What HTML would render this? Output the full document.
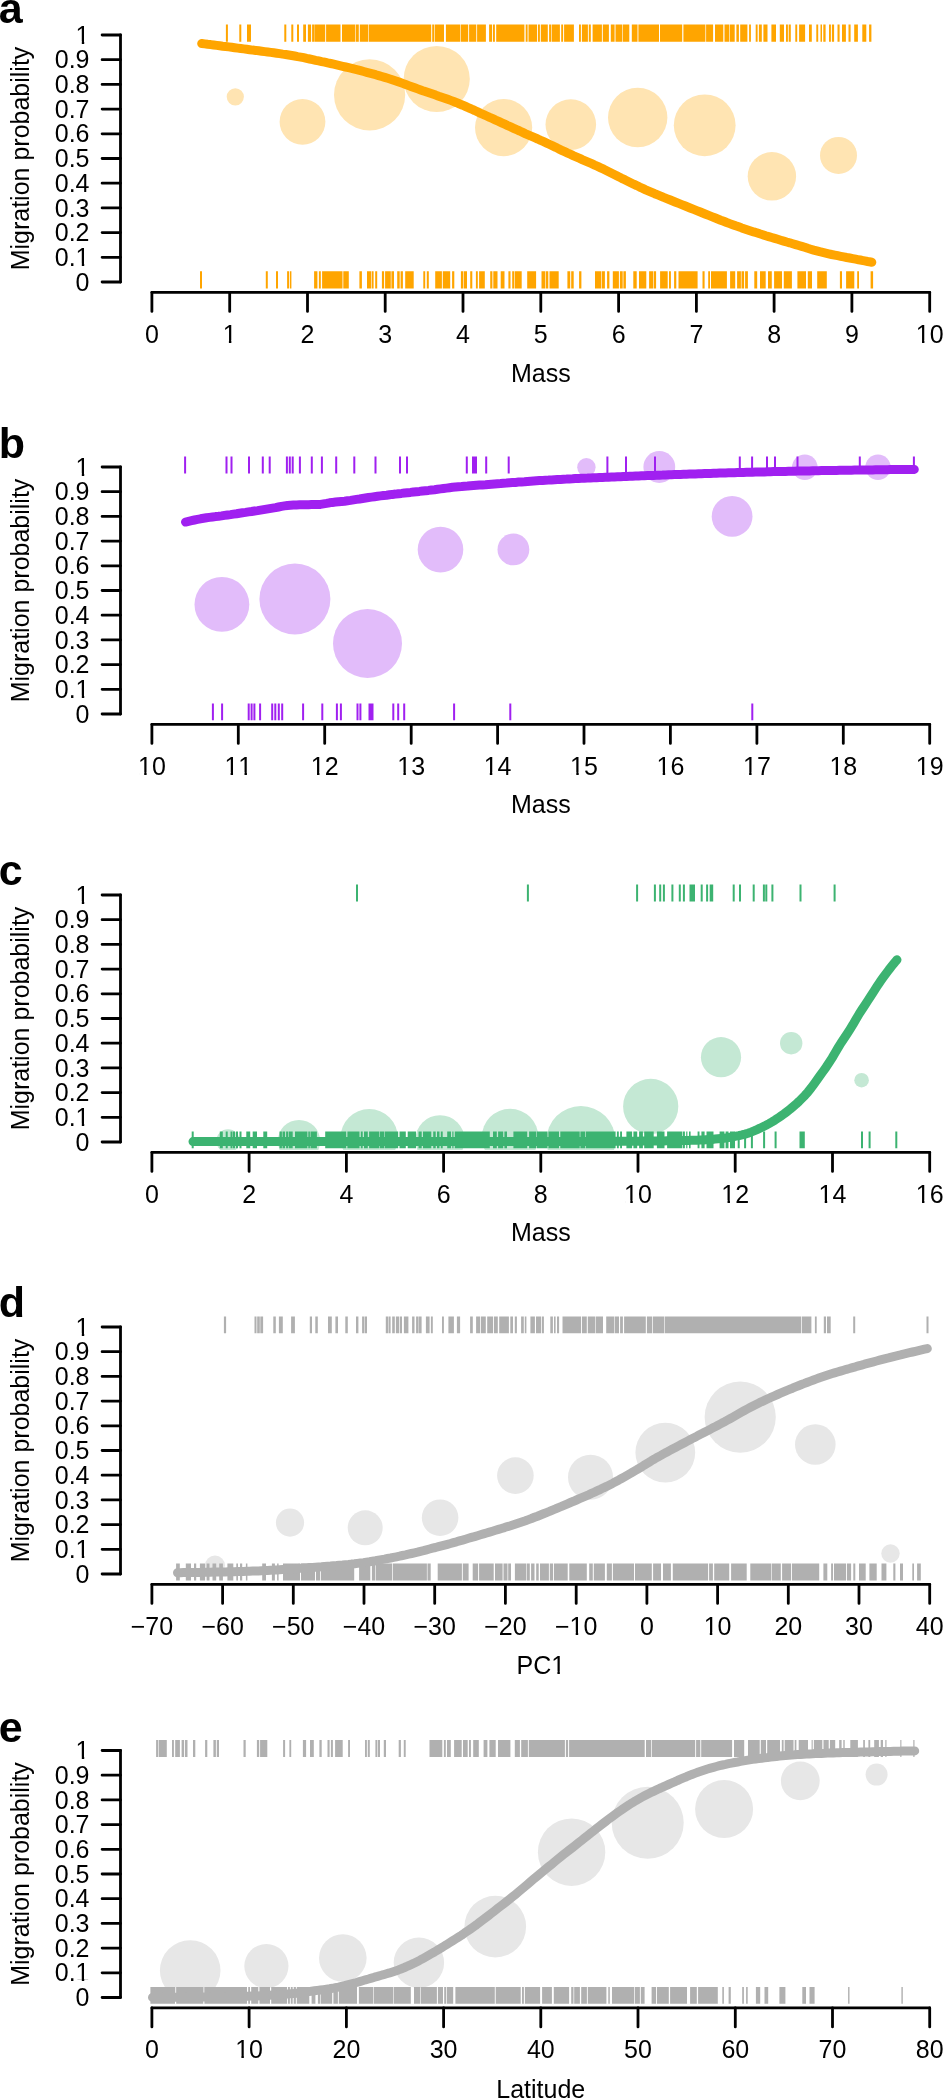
<!DOCTYPE html><html><head><meta charset="utf-8"><style>
html,body{margin:0;padding:0;background:#fff;width:943px;height:2099px;overflow:hidden}
svg{display:block;font-family:"Liberation Sans", sans-serif;-webkit-font-smoothing:antialiased;will-change:transform;font-kerning:none;font-feature-settings:"kern" 0}
</style></head><body>
<svg width="943" height="2099" viewBox="0 0 943 2099">
<g transform="translate(0,0)">
<text x="-1.3" y="22.7" font-weight="bold" font-size="43">a</text>
<text transform="translate(28.6,158.5) rotate(-90)" text-anchor="middle" font-size="25">Migration probability</text>
<path d="M120.5,35 V282" stroke="#000" stroke-width="2.8" fill="none" stroke-linecap="round"/>
<text x="89.5" y="290.6" text-anchor="end" font-size="25">0</text>

<text x="89.5" y="265.9" text-anchor="end" font-size="25">0.1</text>
<rect x="76.8" y="263.68" width="5.01" height="3.07" fill="#fff"/><rect x="84.21" y="263.68" width="5.05" height="3.07" fill="#fff"/>
<text x="89.5" y="241.2" text-anchor="end" font-size="25">0.2</text>

<text x="89.5" y="216.5" text-anchor="end" font-size="25">0.3</text>

<text x="89.5" y="191.8" text-anchor="end" font-size="25">0.4</text>

<text x="89.5" y="167.1" text-anchor="end" font-size="25">0.5</text>

<text x="89.5" y="142.4" text-anchor="end" font-size="25">0.6</text>

<text x="89.5" y="117.7" text-anchor="end" font-size="25">0.7</text>

<text x="89.5" y="93" text-anchor="end" font-size="25">0.8</text>

<text x="89.5" y="68.3" text-anchor="end" font-size="25">0.9</text>

<text x="89.5" y="43.6" text-anchor="end" font-size="25">1</text>
<rect x="76.8" y="41.38" width="5.01" height="3.07" fill="#fff"/><rect x="84.21" y="41.38" width="5.05" height="3.07" fill="#fff"/>
<path d="M102.1,282 H120.5 M102.1,257.3 H120.5 M102.1,232.6 H120.5 M102.1,207.9 H120.5 M102.1,183.2 H120.5 M102.1,158.5 H120.5 M102.1,133.8 H120.5 M102.1,109.1 H120.5 M102.1,84.4 H120.5 M102.1,59.7 H120.5 M102.1,35 H120.5" stroke="#000" stroke-width="2.8" fill="none" stroke-linecap="round"/>
<path d="M151.9,292.4 H929.7" stroke="#000" stroke-width="2.8" fill="none" stroke-linecap="round"/>
<text x="151.9" y="342.6" text-anchor="middle" font-size="25">0</text>

<text x="229.7" y="342.6" text-anchor="middle" font-size="25">1</text>
<rect x="223.9" y="340.38" width="5.01" height="3.07" fill="#fff"/><rect x="231.34" y="340.38" width="5.05" height="3.07" fill="#fff"/>
<text x="307.5" y="342.6" text-anchor="middle" font-size="25">2</text>

<text x="385.2" y="342.6" text-anchor="middle" font-size="25">3</text>

<text x="463" y="342.6" text-anchor="middle" font-size="25">4</text>

<text x="540.8" y="342.6" text-anchor="middle" font-size="25">5</text>

<text x="618.6" y="342.6" text-anchor="middle" font-size="25">6</text>

<text x="696.4" y="342.6" text-anchor="middle" font-size="25">7</text>

<text x="774.1" y="342.6" text-anchor="middle" font-size="25">8</text>

<text x="851.9" y="342.6" text-anchor="middle" font-size="25">9</text>

<text x="929.7" y="342.6" text-anchor="middle" font-size="25">10</text>
<rect x="917" y="340.38" width="5.01" height="3.07" fill="#fff"/><rect x="924.41" y="340.38" width="5.05" height="3.07" fill="#fff"/>
<path d="M151.9,292.4 V311.4 M229.7,292.4 V311.4 M307.5,292.4 V311.4 M385.2,292.4 V311.4 M463,292.4 V311.4 M540.8,292.4 V311.4 M618.6,292.4 V311.4 M696.4,292.4 V311.4 M774.1,292.4 V311.4 M851.9,292.4 V311.4 M929.7,292.4 V311.4" stroke="#000" stroke-width="2.8" fill="none" stroke-linecap="round"/>
<text x="540.8" y="382.4" text-anchor="middle" font-size="25">Mass</text>
<clipPath id="clipa"><rect x="0" y="0" width="943" height="290.1"/></clipPath>
<g clip-path="url(#clipa)" fill="#FFE4B2">
<circle cx="235.3" cy="96.8" r="8.6"/>
<circle cx="302.5" cy="121.8" r="22.9"/>
<circle cx="369.6" cy="94.8" r="35.6"/>
<circle cx="436.7" cy="79" r="33.1"/>
<circle cx="503.6" cy="127.6" r="28.6"/>
<circle cx="570.8" cy="124.6" r="25.3"/>
<circle cx="637.7" cy="117.5" r="29.7"/>
<circle cx="704.7" cy="125.3" r="30.9"/>
<circle cx="771.9" cy="176.3" r="24.2"/>
<circle cx="838.5" cy="155.4" r="18.5"/>
</g>
<path d="M225.9,24.5h2v17.2h-2zM239.3,24.5h2v17.2h-2zM247,24.5h4v17.2h-4zM284.3,24.5h2v17.2h-2zM291.3,24.5h2v17.2h-2zM297,24.5h2v17.2h-2zM303.2,24.5h2.8v17.2h-2.8zM307.9,24.5h3.2v17.2h-3.2zM312.1,24.5h1.9v17.2h-1.9zM314.3,24.5h10.9v17.2h-10.9zM326.1,24.5h14.4v17.2h-14.4zM342,24.5h13.4v17.2h-13.4zM356,24.5h2.8v17.2h-2.8zM359.8,24.5h8.3v17.2h-8.3zM368.7,24.5h62.5v17.2h-62.5zM432.2,24.5h1.9v17.2h-1.9zM434.7,24.5h9.3v17.2h-9.3zM445.9,24.5h14.3v17.2h-14.3zM460.8,24.5h7.4v17.2h-7.4zM469.1,24.5h7.2v17.2h-7.2zM477.1,24.5h8.8v17.2h-8.8zM489.1,24.5h2.9v17.2h-2.9zM492.9,24.5h2v17.2h-2zM496.2,24.5h28.2v17.2h-28.2zM525.7,24.5h1.9v17.2h-1.9zM528.5,24.5h8.5v17.2h-8.5zM537.9,24.5h2v17.2h-2zM540.8,24.5h7v17.2h-7zM549.1,24.5h1.9v17.2h-1.9zM551.6,24.5h8.3v17.2h-8.3zM561.2,24.5h1.9v17.2h-1.9zM564.1,24.5h9.8v17.2h-9.8zM579,24.5h1.9v17.2h-1.9zM581.9,24.5h6v17.2h-6zM588.8,24.5h2v17.2h-2zM592.6,24.5h9.3v17.2h-9.3zM602.8,24.5h6.1v17.2h-6.1zM610.8,24.5h3.8v17.2h-3.8zM615.5,24.5h6.8v17.2h-6.8zM622.9,24.5h6.4v17.2h-6.4zM631.8,24.5h5.7v17.2h-5.7zM638.4,24.5h20.6v17.2h-20.6zM660,24.5h22.2v17.2h-22.2zM683.4,24.5h22v17.2h-22zM706.1,24.5h7v17.2h-7zM715,24.5h8.3v17.2h-8.3zM724.5,24.5h4.5v17.2h-4.5zM729.6,24.5h5.1v17.2h-5.1zM736.4,24.5h2.5v17.2h-2.5zM740.2,24.5h7.2v17.2h-7.2zM749.1,24.5h1.8v17.2h-1.8zM755.7,24.5h1.9v17.2h-1.9zM758.9,24.5h2.9v17.2h-2.9zM763.4,24.5h4.1v17.2h-4.1zM771.4,24.5h4.6v17.2h-4.6zM779.8,24.5h4.2v17.2h-4.2zM786,24.5h1.9v17.2h-1.9zM788.7,24.5h2.1v17.2h-2.1zM795.3,24.5h1.9v17.2h-1.9zM799.1,24.5h6v17.2h-6zM809,24.5h2.8v17.2h-2.8zM816.3,24.5h1.9v17.2h-1.9zM820.5,24.5h1.5v17.2h-1.5zM823.3,24.5h2.3v17.2h-2.3zM829,24.5h1.9v17.2h-1.9zM831.9,24.5h2.2v17.2h-2.2zM837.5,24.5h2.1v17.2h-2.1zM842,24.5h3.9v17.2h-3.9zM848.5,24.5h2.1v17.2h-2.1zM854.2,24.5h3.7v17.2h-3.7zM862.3,24.5h4v17.2h-4zM869.1,24.5h2.3v17.2h-2.3z" fill="#FFA500"/>
<path d="M200,271.3h2v17.2h-2zM265.8,271.3h2v17.2h-2zM276,271.3h2v17.2h-2zM287.1,271.3h1.9v17.2h-1.9zM289.8,271.3h1.6v17.2h-1.6zM314.1,271.3h3.3v17.2h-3.3zM318.9,271.3h1.9v17.2h-1.9zM322.1,271.3h20.4v17.2h-20.4zM343.3,271.3h5.5v17.2h-5.5zM359.4,271.3h2.5v17.2h-2.5zM367,271.3h4.1v17.2h-4.1zM371.7,271.3h1.9v17.2h-1.9zM375.2,271.3h2v17.2h-2zM381.9,271.3h2.2v17.2h-2.2zM385.1,271.3h5.7v17.2h-5.7zM391.4,271.3h2.6v17.2h-2.6zM397.2,271.3h2.5v17.2h-2.5zM400.6,271.3h2.3v17.2h-2.3zM405.2,271.3h8.5v17.2h-8.5zM423.3,271.3h1.9v17.2h-1.9zM426.8,271.3h2v17.2h-2zM435.2,271.3h6.7v17.2h-6.7zM442.8,271.3h7.4v17.2h-7.4zM452.1,271.3h2.2v17.2h-2.2zM460.9,271.3h2.3v17.2h-2.3zM463.8,271.3h3.2v17.2h-3.2zM470.2,271.3h2.1v17.2h-2.1zM475.9,271.3h1.9v17.2h-1.9zM479.1,271.3h5.7v17.2h-5.7zM490.2,271.3h2.2v17.2h-2.2zM493.3,271.3h4.2v17.2h-4.2zM500.7,271.3h3.8v17.2h-3.8zM508.4,271.3h2.1v17.2h-2.1zM512.2,271.3h1.9v17.2h-1.9zM514.7,271.3h7v17.2h-7zM527.2,271.3h8.9v17.2h-8.9zM541.5,271.3h3.6v17.2h-3.6zM545.7,271.3h2.6v17.2h-2.6zM549.5,271.3h9.2v17.2h-9.2zM567.4,271.3h2.8v17.2h-2.8zM571.2,271.3h2.5v17.2h-2.5zM579.1,271.3h2.3v17.2h-2.3zM595,271.3h6.1v17.2h-6.1zM601.7,271.3h3.2v17.2h-3.2zM607.1,271.3h2.3v17.2h-2.3zM612.8,271.3h6.1v17.2h-6.1zM619.9,271.3h2.8v17.2h-2.8zM623.4,271.3h2.5v17.2h-2.5zM633.3,271.3h3.4v17.2h-3.4zM639,271.3h7.3v17.2h-7.3zM649.1,271.3h4.2v17.2h-4.2zM653.9,271.3h2.2v17.2h-2.2zM660.1,271.3h7.6v17.2h-7.6zM669,271.3h1.9v17.2h-1.9zM674.1,271.3h2.2v17.2h-2.2zM678.5,271.3h19.1v17.2h-19.1zM702.5,271.3h2.1v17.2h-2.1zM708.2,271.3h1.8v17.2h-1.8zM711,271.3h15.9v17.2h-15.9zM730.1,271.3h5.1v17.2h-5.1zM737.1,271.3h3.8v17.2h-3.8zM741.5,271.3h2.6v17.2h-2.6zM745.1,271.3h2.8v17.2h-2.8zM754.3,271.3h2.9v17.2h-2.9zM760,271.3h5.7v17.2h-5.7zM768,271.3h3.8v17.2h-3.8zM774.1,271.3h7.9v17.2h-7.9zM783.8,271.3h8.1v17.2h-8.1zM797.4,271.3h8.6v17.2h-8.6zM807.8,271.3h4.2v17.2h-4.2zM817.2,271.3h9.6v17.2h-9.6zM839.9,271.3h2.1v17.2h-2.1zM846.1,271.3h8.2v17.2h-8.2zM857.2,271.3h1.8v17.2h-1.8zM870.6,271.3h2.5v17.2h-2.5z" fill="#FFA500"/>
<path d="M201.7,43.5 204.7,43.9 207.7,44.3 210.7,44.6 213.7,45 216.7,45.4 219.7,45.8 222.7,46.2 225.7,46.5 228.7,46.9 231.7,47.3 234.7,47.7 237.7,48.1 240.7,48.5 243.7,48.9 246.7,49.3 249.7,49.7 252.7,50.1 255.7,50.4 258.7,50.8 261.7,51.2 264.7,51.6 267.7,52 270.7,52.4 273.7,52.8 276.7,53.2 279.7,53.6 282.7,54.1 285.7,54.5 288.7,55 291.7,55.5 294.7,56 297.7,56.6 300.7,57.1 303.7,57.7 306.7,58.4 309.7,59 312.7,59.6 315.7,60.3 318.7,60.9 321.7,61.6 324.7,62.2 327.7,62.9 330.7,63.5 333.7,64.2 336.7,64.9 339.7,65.6 342.7,66.3 345.7,67 348.7,67.7 351.7,68.4 354.7,69.2 357.7,69.9 360.7,70.7 363.7,71.5 366.7,72.3 369.7,73.1 372.7,73.9 375.7,74.7 378.7,75.6 381.7,76.5 384.7,77.4 387.7,78.3 390.7,79.2 393.7,80.2 396.7,81.2 399.7,82.3 402.7,83.4 405.7,84.5 408.7,85.6 411.7,86.7 414.7,87.8 417.7,88.9 420.7,90 423.7,91.1 426.7,92.1 429.7,93.1 432.7,94.1 435.7,95.1 438.7,96.2 441.7,97.2 444.7,98.2 447.7,99.3 450.7,100.4 453.7,101.5 456.7,102.7 459.7,104 462.7,105.2 465.7,106.5 468.7,107.8 471.7,109.2 474.7,110.5 477.7,111.9 480.7,113.3 483.7,114.6 486.7,116 489.7,117.4 492.7,118.7 495.7,120.1 498.7,121.4 501.7,122.8 504.7,124.2 507.7,125.6 510.7,126.9 513.7,128.3 516.7,129.7 519.7,131 522.7,132.4 525.7,133.8 528.7,135.1 531.7,136.4 534.7,137.7 537.7,139 540.7,140.4 543.7,141.7 546.7,143.1 549.7,144.5 552.7,145.9 555.7,147.3 558.7,148.9 561.7,150.3 564.7,151.7 567.7,153.1 570.7,154.4 573.7,155.8 576.7,157.1 579.7,158.4 582.7,159.8 585.7,161.1 588.7,162.4 591.7,163.7 594.7,165.1 597.7,166.4 600.7,167.8 603.7,169.2 606.7,170.7 609.7,172.2 612.7,173.7 615.7,175.2 618.7,176.8 621.7,178.3 624.7,179.7 627.7,181.2 630.7,182.7 633.7,184.2 636.7,185.6 639.7,187.1 642.7,188.4 645.7,189.8 648.7,191.1 651.7,192.4 654.7,193.7 657.7,194.9 660.7,196.1 663.7,197.4 666.7,198.6 669.7,199.8 672.7,201 675.7,202.2 678.7,203.4 681.7,204.6 684.7,205.8 687.7,207 690.7,208.2 693.7,209.4 696.7,210.6 699.7,211.8 702.7,213 705.7,214.2 708.7,215.4 711.7,216.6 714.7,217.8 717.7,219 720.7,220.2 723.7,221.3 726.7,222.5 729.7,223.6 732.7,224.7 735.7,225.8 738.7,226.8 741.7,227.9 744.7,228.9 747.7,229.9 750.7,230.9 753.7,231.9 756.7,232.8 759.7,233.8 762.7,234.7 765.7,235.7 768.7,236.6 771.7,237.5 774.7,238.4 777.7,239.3 780.7,240.2 783.7,241.1 786.7,242 789.7,242.8 792.7,243.7 795.7,244.6 798.7,245.5 801.7,246.4 804.7,247.3 807.7,248.3 810.7,249.2 813.7,250.1 816.7,250.9 819.7,251.7 822.7,252.4 825.7,253.1 828.7,253.8 831.7,254.5 834.7,255.1 837.7,255.7 840.7,256.3 843.7,256.9 846.7,257.5 849.7,258 852.7,258.6 855.7,259.2 858.7,259.8 861.7,260.3 864.7,260.9 867.7,261.5 870.7,262 871.8,262.2" stroke="#FFA500" stroke-width="9" fill="none" stroke-linecap="round" stroke-linejoin="round"/>
</g>
<g transform="translate(0,432)">
<text x="-1.3" y="26.4" font-weight="bold" font-size="43">b</text>
<text transform="translate(28.6,158.5) rotate(-90)" text-anchor="middle" font-size="25">Migration probability</text>
<path d="M120.5,35 V282" stroke="#000" stroke-width="2.8" fill="none" stroke-linecap="round"/>
<text x="89.5" y="290.6" text-anchor="end" font-size="25">0</text>

<text x="89.5" y="265.9" text-anchor="end" font-size="25">0.1</text>
<rect x="76.8" y="263.68" width="5.01" height="3.07" fill="#fff"/><rect x="84.21" y="263.68" width="5.05" height="3.07" fill="#fff"/>
<text x="89.5" y="241.2" text-anchor="end" font-size="25">0.2</text>

<text x="89.5" y="216.5" text-anchor="end" font-size="25">0.3</text>

<text x="89.5" y="191.8" text-anchor="end" font-size="25">0.4</text>

<text x="89.5" y="167.1" text-anchor="end" font-size="25">0.5</text>

<text x="89.5" y="142.4" text-anchor="end" font-size="25">0.6</text>

<text x="89.5" y="117.7" text-anchor="end" font-size="25">0.7</text>

<text x="89.5" y="93" text-anchor="end" font-size="25">0.8</text>

<text x="89.5" y="68.3" text-anchor="end" font-size="25">0.9</text>

<text x="89.5" y="43.6" text-anchor="end" font-size="25">1</text>
<rect x="76.8" y="41.38" width="5.01" height="3.07" fill="#fff"/><rect x="84.21" y="41.38" width="5.05" height="3.07" fill="#fff"/>
<path d="M102.1,282 H120.5 M102.1,257.3 H120.5 M102.1,232.6 H120.5 M102.1,207.9 H120.5 M102.1,183.2 H120.5 M102.1,158.5 H120.5 M102.1,133.8 H120.5 M102.1,109.1 H120.5 M102.1,84.4 H120.5 M102.1,59.7 H120.5 M102.1,35 H120.5" stroke="#000" stroke-width="2.8" fill="none" stroke-linecap="round"/>
<path d="M151.9,292.4 H929.7" stroke="#000" stroke-width="2.8" fill="none" stroke-linecap="round"/>
<text x="151.9" y="342.6" text-anchor="middle" font-size="25">10</text>
<rect x="139.2" y="340.38" width="5.01" height="3.07" fill="#fff"/><rect x="146.61" y="340.38" width="5.05" height="3.07" fill="#fff"/>
<text x="238.3" y="342.6" text-anchor="middle" font-size="25">11</text>
<rect x="225.6" y="340.38" width="5.01" height="3.07" fill="#fff"/><rect x="233.03" y="340.38" width="5.05" height="3.07" fill="#fff"/><rect x="239.5" y="340.38" width="5.01" height="3.07" fill="#fff"/><rect x="246.94" y="340.38" width="5.05" height="3.07" fill="#fff"/>
<text x="324.7" y="342.6" text-anchor="middle" font-size="25">12</text>
<rect x="312" y="340.38" width="5.01" height="3.07" fill="#fff"/><rect x="319.46" y="340.38" width="5.05" height="3.07" fill="#fff"/>
<text x="411.2" y="342.6" text-anchor="middle" font-size="25">13</text>
<rect x="398.4" y="340.38" width="5.01" height="3.07" fill="#fff"/><rect x="405.88" y="340.38" width="5.05" height="3.07" fill="#fff"/>
<text x="497.6" y="342.6" text-anchor="middle" font-size="25">14</text>
<rect x="484.8" y="340.38" width="5.01" height="3.07" fill="#fff"/><rect x="492.30" y="340.38" width="5.05" height="3.07" fill="#fff"/>
<text x="584" y="342.6" text-anchor="middle" font-size="25">15</text>
<rect x="571.3" y="340.38" width="5.01" height="3.07" fill="#fff"/><rect x="578.72" y="340.38" width="5.05" height="3.07" fill="#fff"/>
<text x="670.4" y="342.6" text-anchor="middle" font-size="25">16</text>
<rect x="657.7" y="340.38" width="5.01" height="3.07" fill="#fff"/><rect x="665.15" y="340.38" width="5.05" height="3.07" fill="#fff"/>
<text x="756.9" y="342.6" text-anchor="middle" font-size="25">17</text>
<rect x="744.1" y="340.38" width="5.01" height="3.07" fill="#fff"/><rect x="751.57" y="340.38" width="5.05" height="3.07" fill="#fff"/>
<text x="843.3" y="342.6" text-anchor="middle" font-size="25">18</text>
<rect x="830.5" y="340.38" width="5.01" height="3.07" fill="#fff"/><rect x="837.99" y="340.38" width="5.05" height="3.07" fill="#fff"/>
<text x="929.7" y="342.6" text-anchor="middle" font-size="25">19</text>
<rect x="917" y="340.38" width="5.01" height="3.07" fill="#fff"/><rect x="924.41" y="340.38" width="5.05" height="3.07" fill="#fff"/>
<path d="M151.9,292.4 V311.4 M238.3,292.4 V311.4 M324.7,292.4 V311.4 M411.2,292.4 V311.4 M497.6,292.4 V311.4 M584,292.4 V311.4 M670.4,292.4 V311.4 M756.9,292.4 V311.4 M843.3,292.4 V311.4 M929.7,292.4 V311.4" stroke="#000" stroke-width="2.8" fill="none" stroke-linecap="round"/>
<text x="540.8" y="380.9" text-anchor="middle" font-size="25">Mass</text>
<clipPath id="clipb"><rect x="0" y="0" width="943" height="290.1"/></clipPath>
<g clip-path="url(#clipb)" fill="#E2BCFA">
<circle cx="221.9" cy="172.4" r="27.4"/>
<circle cx="294.9" cy="167" r="35.5"/>
<circle cx="367.5" cy="211.5" r="34.5"/>
<circle cx="440.5" cy="117.6" r="22.8"/>
<circle cx="513.4" cy="117.4" r="15.9"/>
<circle cx="586.4" cy="35.2" r="9.2"/>
<circle cx="659.3" cy="35" r="15.9"/>
<circle cx="732.1" cy="84.4" r="20.4"/>
<circle cx="804.8" cy="35.2" r="12.8"/>
<circle cx="878" cy="35.2" r="12.7"/>
</g>
<path d="M184.1,24.5h2v17h-2zM225.5,24.5h2v17h-2zM230.5,24.5h2v17h-2zM248,24.5h2v17h-2zM261.8,24.5h2v17h-2zM268.7,24.5h2v17h-2zM285.9,24.5h2v17h-2zM288.8,24.5h2v17h-2zM291.7,24.5h2v17h-2zM298.9,24.5h2v17h-2zM310.8,24.5h2v17h-2zM320.9,24.5h2v17h-2zM335.2,24.5h2v17h-2zM353.3,24.5h2v17h-2zM374.5,24.5h2v17h-2zM399,24.5h2v17h-2zM406,24.5h2v17h-2zM465.8,24.5h2v17h-2zM472,24.5h5v17h-5zM485.2,24.5h2v17h-2zM507.7,24.5h2v17h-2zM606.4,24.5h2v17h-2zM625,24.5h2v17h-2zM654,24.5h2v17h-2zM738.8,24.5h2v17h-2zM751.1,24.5h2v17h-2zM766,24.5h2v17h-2zM774,24.5h2v17h-2zM796.5,24.5h2v17h-2zM858.8,24.5h2v17h-2zM912.9,24.5h2v17h-2z" fill="#A020F0"/>
<path d="M211.9,271.5h2v16.8h-2zM221.1,271.5h2v16.8h-2zM247.7,271.5h2v16.8h-2zM250.6,271.5h2v16.8h-2zM253.4,271.5h2v16.8h-2zM259.1,271.5h2v16.8h-2zM271.2,271.5h2v16.8h-2zM274.3,271.5h2v16.8h-2zM277.8,271.5h2v16.8h-2zM281.2,271.5h2v16.8h-2zM302.1,271.5h2v16.8h-2zM321.3,271.5h2v16.8h-2zM335.9,271.5h2v16.8h-2zM339.9,271.5h2v16.8h-2zM356.5,271.5h2v16.8h-2zM359.4,271.5h2v16.8h-2zM368.5,271.5h5v16.8h-5zM392.3,271.5h2v16.8h-2zM397.2,271.5h2v16.8h-2zM403.2,271.5h2v16.8h-2zM453.1,271.5h2v16.8h-2zM509.3,271.5h2v16.8h-2zM751.3,271.5h2v16.8h-2z" fill="#A020F0"/>
<path d="M185.5,90.1 188.5,89.4 191.5,88.7 194.5,88 197.5,87.4 200.5,86.8 203.5,86.3 206.5,85.8 209.5,85.4 212.5,85 215.5,84.6 218.5,84.3 221.5,83.9 224.5,83.4 227.5,83 230.5,82.6 233.5,82.1 236.5,81.7 239.5,81.2 242.5,80.8 245.5,80.4 248.5,79.9 251.5,79.5 254.5,79 257.5,78.6 260.5,78.1 263.5,77.6 266.5,77.1 269.5,76.6 272.5,76.1 275.5,75.6 278.5,75 281.5,74.4 284.5,73.9 287.5,73.5 290.5,73.3 293.5,73.1 296.5,72.9 299.5,72.8 302.5,72.7 305.5,72.7 308.5,72.7 311.5,72.6 314.5,72.6 317.5,72.6 320.5,72.4 323.5,71.9 326.5,71.4 329.5,70.8 332.5,70.4 335.5,70.1 338.5,69.8 341.5,69.5 344.5,69.2 347.5,68.8 350.5,68.4 353.5,67.9 356.5,67.4 359.5,67 362.5,66.5 365.5,66 368.5,65.5 371.5,65.1 374.5,64.7 377.5,64.3 380.5,63.9 383.5,63.5 386.5,63.2 389.5,62.8 392.5,62.4 395.5,62.1 398.5,61.7 401.5,61.4 404.5,61 407.5,60.7 410.5,60.4 413.5,60 416.5,59.7 419.5,59.4 422.5,59 425.5,58.7 428.5,58.4 431.5,58 434.5,57.7 437.5,57.3 440.5,56.9 443.5,56.5 446.5,56.1 449.5,55.7 452.5,55.3 455.5,55 458.5,54.7 461.5,54.5 464.5,54.2 467.5,54 470.5,53.7 473.5,53.5 476.5,53.3 479.5,53.1 482.5,52.9 485.5,52.7 488.5,52.4 491.5,52.2 494.5,52 497.5,51.8 500.5,51.6 503.5,51.3 506.5,51.1 509.5,50.8 512.5,50.6 515.5,50.4 518.5,50.1 521.5,49.9 524.5,49.7 527.5,49.4 530.5,49.2 533.5,49 536.5,48.8 539.5,48.6 542.5,48.4 545.5,48.2 548.5,48.1 551.5,47.9 554.5,47.7 557.5,47.5 560.5,47.4 563.5,47.2 566.5,47.1 569.5,46.9 572.5,46.8 575.5,46.6 578.5,46.5 581.5,46.3 584.5,46.2 587.5,46.1 590.5,45.9 593.5,45.8 596.5,45.7 599.5,45.5 602.5,45.4 605.5,45.3 608.5,45.2 611.5,45 614.5,44.9 617.5,44.8 620.5,44.7 623.5,44.5 626.5,44.4 629.5,44.3 632.5,44.2 635.5,44.1 638.5,44 641.5,43.8 644.5,43.7 647.5,43.6 650.5,43.5 653.5,43.4 656.5,43.3 659.5,43.2 662.5,43.1 665.5,42.9 668.5,42.8 671.5,42.7 674.5,42.6 677.5,42.5 680.5,42.4 683.5,42.3 686.5,42.2 689.5,42.1 692.5,42 695.5,41.9 698.5,41.8 701.5,41.7 704.5,41.6 707.5,41.5 710.5,41.4 713.5,41.3 716.5,41.2 719.5,41.1 722.5,41 725.5,40.9 728.5,40.8 731.5,40.7 734.5,40.7 737.5,40.6 740.5,40.5 743.5,40.4 746.5,40.3 749.5,40.2 752.5,40.2 755.5,40.1 758.5,40 761.5,39.9 764.5,39.9 767.5,39.8 770.5,39.7 773.5,39.6 776.5,39.6 779.5,39.5 782.5,39.4 785.5,39.4 788.5,39.3 791.5,39.2 794.5,39.2 797.5,39.1 800.5,39 803.5,39 806.5,38.9 809.5,38.9 812.5,38.8 815.5,38.8 818.5,38.7 821.5,38.6 824.5,38.6 827.5,38.5 830.5,38.5 833.5,38.4 836.5,38.4 839.5,38.3 842.5,38.3 845.5,38.3 848.5,38.2 851.5,38.2 854.5,38.1 857.5,38.1 860.5,38 863.5,38 866.5,37.9 869.5,37.9 872.5,37.9 875.5,37.8 878.5,37.8 881.5,37.7 884.5,37.7 887.5,37.7 890.5,37.6 893.5,37.6 896.5,37.6 899.5,37.5 902.5,37.5 905.5,37.5 908.5,37.5 911.5,37.4 914.3,37.4" stroke="#A020F0" stroke-width="9" fill="none" stroke-linecap="round" stroke-linejoin="round"/>
</g>
<g transform="translate(0,860)">
<text x="-1.3" y="24.8" font-weight="bold" font-size="43">c</text>
<text transform="translate(28.6,158.5) rotate(-90)" text-anchor="middle" font-size="25">Migration probability</text>
<path d="M120.5,35 V282" stroke="#000" stroke-width="2.8" fill="none" stroke-linecap="round"/>
<text x="89.5" y="290.6" text-anchor="end" font-size="25">0</text>

<text x="89.5" y="265.9" text-anchor="end" font-size="25">0.1</text>
<rect x="76.8" y="263.68" width="5.01" height="3.07" fill="#fff"/><rect x="84.21" y="263.68" width="5.05" height="3.07" fill="#fff"/>
<text x="89.5" y="241.2" text-anchor="end" font-size="25">0.2</text>

<text x="89.5" y="216.5" text-anchor="end" font-size="25">0.3</text>

<text x="89.5" y="191.8" text-anchor="end" font-size="25">0.4</text>

<text x="89.5" y="167.1" text-anchor="end" font-size="25">0.5</text>

<text x="89.5" y="142.4" text-anchor="end" font-size="25">0.6</text>

<text x="89.5" y="117.7" text-anchor="end" font-size="25">0.7</text>

<text x="89.5" y="93" text-anchor="end" font-size="25">0.8</text>

<text x="89.5" y="68.3" text-anchor="end" font-size="25">0.9</text>

<text x="89.5" y="43.6" text-anchor="end" font-size="25">1</text>
<rect x="76.8" y="41.38" width="5.01" height="3.07" fill="#fff"/><rect x="84.21" y="41.38" width="5.05" height="3.07" fill="#fff"/>
<path d="M102.1,282 H120.5 M102.1,257.3 H120.5 M102.1,232.6 H120.5 M102.1,207.9 H120.5 M102.1,183.2 H120.5 M102.1,158.5 H120.5 M102.1,133.8 H120.5 M102.1,109.1 H120.5 M102.1,84.4 H120.5 M102.1,59.7 H120.5 M102.1,35 H120.5" stroke="#000" stroke-width="2.8" fill="none" stroke-linecap="round"/>
<path d="M151.9,292.4 H929.7" stroke="#000" stroke-width="2.8" fill="none" stroke-linecap="round"/>
<text x="151.9" y="342.6" text-anchor="middle" font-size="25">0</text>

<text x="249.1" y="342.6" text-anchor="middle" font-size="25">2</text>

<text x="346.4" y="342.6" text-anchor="middle" font-size="25">4</text>

<text x="443.6" y="342.6" text-anchor="middle" font-size="25">6</text>

<text x="540.8" y="342.6" text-anchor="middle" font-size="25">8</text>

<text x="638" y="342.6" text-anchor="middle" font-size="25">10</text>
<rect x="625.3" y="340.38" width="5.01" height="3.07" fill="#fff"/><rect x="632.74" y="340.38" width="5.05" height="3.07" fill="#fff"/>
<text x="735.2" y="342.6" text-anchor="middle" font-size="25">12</text>
<rect x="722.5" y="340.38" width="5.01" height="3.07" fill="#fff"/><rect x="729.96" y="340.38" width="5.05" height="3.07" fill="#fff"/>
<text x="832.5" y="342.6" text-anchor="middle" font-size="25">14</text>
<rect x="819.7" y="340.38" width="5.01" height="3.07" fill="#fff"/><rect x="827.19" y="340.38" width="5.05" height="3.07" fill="#fff"/>
<text x="929.7" y="342.6" text-anchor="middle" font-size="25">16</text>
<rect x="917" y="340.38" width="5.01" height="3.07" fill="#fff"/><rect x="924.41" y="340.38" width="5.05" height="3.07" fill="#fff"/>
<path d="M151.9,292.4 V311.4 M249.1,292.4 V311.4 M346.4,292.4 V311.4 M443.6,292.4 V311.4 M540.8,292.4 V311.4 M638,292.4 V311.4 M735.2,292.4 V311.4 M832.5,292.4 V311.4 M929.7,292.4 V311.4" stroke="#000" stroke-width="2.8" fill="none" stroke-linecap="round"/>
<text x="540.8" y="381.4" text-anchor="middle" font-size="25">Mass</text>
<clipPath id="clipc"><rect x="0" y="0" width="943" height="290.1"/></clipPath>
<g clip-path="url(#clipc)" fill="#C4E8D4">
<circle cx="228" cy="280.9" r="11.7"/>
<circle cx="299" cy="281.1" r="21.2"/>
<circle cx="369.2" cy="277.8" r="28.7"/>
<circle cx="440" cy="279.9" r="24.7"/>
<circle cx="510.1" cy="277.1" r="28.3"/>
<circle cx="580.9" cy="280.5" r="34.5"/>
<circle cx="650.7" cy="246.4" r="27.6"/>
<circle cx="721" cy="197.2" r="20.1"/>
<circle cx="791.2" cy="183.2" r="11.2"/>
<circle cx="861.6" cy="220.2" r="7.3"/>
</g>
<path d="M356,24.5h2v17h-2zM526.9,24.5h2v17h-2zM636.1,24.5h2v17h-2zM653.9,24.5h2v17h-2zM659.2,24.5h2v17h-2zM662.9,24.5h2v17h-2zM671.4,24.5h2v17h-2zM678.8,24.5h2v17h-2zM682.9,24.5h2v17h-2zM689.5,24.5h5.5v17h-5.5zM700.7,24.5h2v17h-2zM706.1,24.5h2v17h-2zM709.7,24.5h3.5v17h-3.5zM732.7,24.5h2v17h-2zM739,24.5h2v17h-2zM752.7,24.5h2v17h-2zM762.9,24.5h2v17h-2zM765.3,24.5h2v17h-2zM771.4,24.5h2v17h-2zM799.5,24.5h2v17h-2zM833.6,24.5h2v17h-2z" fill="#3CB371"/>
<path d="M191.7,271.5h2v16.8h-2zM219.8,271.5h3v16.8h-3zM225.7,271.5h2v16.8h-2zM230.5,271.5h2v16.8h-2zM233,271.5h2v16.8h-2zM236,271.5h2v16.8h-2zM239.5,271.5h2v16.8h-2zM246.3,271.5h3.9v16.8h-3.9zM252.7,271.5h4.3v16.8h-4.3zM263.3,271.5h3.9v16.8h-3.9zM279.5,271.5h2.4v16.8h-2.4zM282.5,271.5h2.6v16.8h-2.6zM286.1,271.5h2.2v16.8h-2.2zM288.9,271.5h3.8v16.8h-3.8zM295,271.5h12.4v16.8h-12.4zM308.3,271.5h1.6v16.8h-1.6zM310.5,271.5h6.4v16.8h-6.4zM325.2,271.5h21v16.8h-21zM347.4,271.5h12.1v16.8h-12.1zM360.8,271.5h1.9v16.8h-1.9zM364,271.5h3.8v16.8h-3.8zM369.1,271.5h10.2v16.8h-10.2zM379.9,271.5h4.5v16.8h-4.5zM385,271.5h13.2v16.8h-13.2zM399.5,271.5h6.3v16.8h-6.3zM407.7,271.5h8.3v16.8h-8.3zM418.5,271.5h3.2v16.8h-3.2zM423,271.5h8.3v16.8h-8.3zM433.2,271.5h2.5v16.8h-2.5zM437,271.5h2.5v16.8h-2.5zM440.8,271.5h1.9v16.8h-1.9zM447.2,271.5h3.8v16.8h-3.8zM452.3,271.5h1.2v16.8h-1.2zM454.8,271.5h35v16.8h-35zM493,271.5h3.8v16.8h-3.8zM498.1,271.5h5.1v16.8h-5.1zM504.4,271.5h2.6v16.8h-2.6zM513.4,271.5h13.8v16.8h-13.8zM529.1,271.5h7v16.8h-7zM536.7,271.5h10.8v16.8h-10.8zM548.4,271.5h10.6v16.8h-10.6zM560.3,271.5h19.4v16.8h-19.4zM580.4,271.5h4.7v16.8h-4.7zM585.8,271.5h29.8v16.8h-29.8zM616.9,271.5h1.9v16.8h-1.9zM620.1,271.5h1.9v16.8h-1.9zM626.4,271.5h5.7v16.8h-5.7zM633.4,271.5h3.8v16.8h-3.8zM639.1,271.5h3.8v16.8h-3.8zM644.2,271.5h9.5v16.8h-9.5zM656.9,271.5h7.6v16.8h-7.6zM667.1,271.5h15.3v16.8h-15.3zM683,271.5h1.9v16.8h-1.9zM686.2,271.5h1.2v16.8h-1.2zM689,271.5h1.6v16.8h-1.6zM697.6,271.5h1.9v16.8h-1.9zM701.4,271.5h3.2v16.8h-3.2zM706.5,271.5h7v16.8h-7zM719.6,271.5h4.8v16.8h-4.8zM725.6,271.5h2.9v16.8h-2.9zM730,271.5h5v16.8h-5zM737.7,271.5h2v16.8h-2zM744.1,271.5h2v16.8h-2zM750.9,271.5h2v16.8h-2zM763.1,271.5h2v16.8h-2zM774.6,271.5h2v16.8h-2zM799.5,271.5h5.3v16.8h-5.3zM861,271.5h2v16.8h-2zM868.6,271.5h2v16.8h-2zM895.3,271.5h2v16.8h-2z" fill="#3CB371"/>
<path d="M193,281.6 196,281.6 199,281.6 202,281.6 205,281.6 208,281.6 211,281.6 214,281.6 217,281.6 220,281.6 223,281.6 226,281.6 229,281.6 232,281.6 235,281.6 238,281.6 241,281.6 244,281.6 247,281.6 250,281.6 253,281.6 256,281.6 259,281.6 262,281.6 265,281.6 268,281.6 271,281.6 274,281.6 277,281.6 280,281.6 283,281.6 286,281.6 289,281.6 292,281.6 295,281.6 298,281.6 301,281.6 304,281.6 307,281.6 310,281.6 313,281.6 316,281.6 319,281.6 322,281.6 325,281.6 328,281.6 331,281.6 334,281.6 337,281.6 340,281.6 343,281.6 346,281.6 349,281.6 352,281.6 355,281.6 358,281.6 361,281.6 364,281.6 367,281.6 370,281.6 373,281.6 376,281.6 379,281.6 382,281.6 385,281.6 388,281.6 391,281.6 394,281.6 397,281.6 400,281.6 403,281.6 406,281.6 409,281.6 412,281.6 415,281.6 418,281.6 421,281.6 424,281.6 427,281.6 430,281.6 433,281.6 436,281.6 439,281.6 442,281.6 445,281.6 448,281.6 451,281.6 454,281.6 457,281.6 460,281.6 463,281.6 466,281.6 469,281.6 472,281.6 475,281.6 478,281.6 481,281.6 484,281.6 487,281.6 490,281.6 493,281.6 496,281.6 499,281.6 502,281.5 505,281.5 508,281.5 511,281.5 514,281.5 517,281.5 520,281.5 523,281.5 526,281.5 529,281.5 532,281.5 535,281.5 538,281.5 541,281.5 544,281.5 547,281.5 550,281.5 553,281.5 556,281.5 559,281.5 562,281.5 565,281.5 568,281.5 571,281.5 574,281.4 577,281.4 580,281.4 583,281.4 586,281.4 589,281.4 592,281.4 595,281.4 598,281.4 601,281.4 604,281.4 607,281.4 610,281.4 613,281.4 616,281.3 619,281.3 622,281.3 625,281.3 628,281.3 631,281.2 634,281.2 637,281.2 640,281.2 643,281.1 646,281.1 649,281.1 652,281 655,281 658,280.9 661,280.9 664,280.9 667,280.8 670,280.8 673,280.7 676,280.6 679,280.6 682,280.5 685,280.5 688,280.4 691,280.3 694,280.3 697,280.2 700,280.1 703,280 706,279.8 709,279.6 712,279.4 715,279.1 718,278.8 721,278.5 724,278.2 727,277.8 730,277.3 733,276.8 736,276.2 739,275.6 742,274.9 745,274.1 748,273.2 751,272.1 754,270.9 757,269.6 760,268.2 763,266.7 766,265.2 769,263.6 772,261.9 775,260.1 778,258.1 781,256 784,253.9 787,251.6 790,249.3 793,246.8 796,244.2 799,241.4 802,238.4 805,235.3 808,231.9 811,228.2 814,224.1 817,219.9 820,215.7 823,211.5 826,207.3 829,202.8 832,198.1 835,193 838,187.9 841,183 844,178.5 847,174 850,169.3 853,164.4 856,159.2 859,154.2 862,149.5 865,145 868,140.4 871,135.8 874,131.1 877,126.4 880,121.9 883,117.7 886,113.6 889,109.6 892,105.8 895,102.1 897,99.8" stroke="#3CB371" stroke-width="9" fill="none" stroke-linecap="round" stroke-linejoin="round"/>
</g>
<g transform="translate(0,1292)">
<text x="-1.3" y="24.7" font-weight="bold" font-size="43">d</text>
<text transform="translate(28.6,158.5) rotate(-90)" text-anchor="middle" font-size="25">Migration probability</text>
<path d="M120.5,35 V282" stroke="#000" stroke-width="2.8" fill="none" stroke-linecap="round"/>
<text x="89.5" y="290.6" text-anchor="end" font-size="25">0</text>

<text x="89.5" y="265.9" text-anchor="end" font-size="25">0.1</text>
<rect x="76.8" y="263.68" width="5.01" height="3.07" fill="#fff"/><rect x="84.21" y="263.68" width="5.05" height="3.07" fill="#fff"/>
<text x="89.5" y="241.2" text-anchor="end" font-size="25">0.2</text>

<text x="89.5" y="216.5" text-anchor="end" font-size="25">0.3</text>

<text x="89.5" y="191.8" text-anchor="end" font-size="25">0.4</text>

<text x="89.5" y="167.1" text-anchor="end" font-size="25">0.5</text>

<text x="89.5" y="142.4" text-anchor="end" font-size="25">0.6</text>

<text x="89.5" y="117.7" text-anchor="end" font-size="25">0.7</text>

<text x="89.5" y="93" text-anchor="end" font-size="25">0.8</text>

<text x="89.5" y="68.3" text-anchor="end" font-size="25">0.9</text>

<text x="89.5" y="43.6" text-anchor="end" font-size="25">1</text>
<rect x="76.8" y="41.38" width="5.01" height="3.07" fill="#fff"/><rect x="84.21" y="41.38" width="5.05" height="3.07" fill="#fff"/>
<path d="M102.1,282 H120.5 M102.1,257.3 H120.5 M102.1,232.6 H120.5 M102.1,207.9 H120.5 M102.1,183.2 H120.5 M102.1,158.5 H120.5 M102.1,133.8 H120.5 M102.1,109.1 H120.5 M102.1,84.4 H120.5 M102.1,59.7 H120.5 M102.1,35 H120.5" stroke="#000" stroke-width="2.8" fill="none" stroke-linecap="round"/>
<path d="M151.9,292.4 H929.7" stroke="#000" stroke-width="2.8" fill="none" stroke-linecap="round"/>
<text x="151.9" y="342.6" text-anchor="middle" font-size="25">−70</text>

<text x="222.6" y="342.6" text-anchor="middle" font-size="25">−60</text>

<text x="293.3" y="342.6" text-anchor="middle" font-size="25">−50</text>

<text x="364" y="342.6" text-anchor="middle" font-size="25">−40</text>

<text x="434.7" y="342.6" text-anchor="middle" font-size="25">−30</text>

<text x="505.4" y="342.6" text-anchor="middle" font-size="25">−20</text>

<text x="576.2" y="342.6" text-anchor="middle" font-size="25">−10</text>
<rect x="570.7" y="340.38" width="5.01" height="3.07" fill="#fff"/><rect x="578.17" y="340.38" width="5.05" height="3.07" fill="#fff"/>
<text x="646.9" y="342.6" text-anchor="middle" font-size="25">0</text>

<text x="717.6" y="342.6" text-anchor="middle" font-size="25">10</text>
<rect x="704.8" y="340.38" width="5.01" height="3.07" fill="#fff"/><rect x="712.29" y="340.38" width="5.05" height="3.07" fill="#fff"/>
<text x="788.3" y="342.6" text-anchor="middle" font-size="25">20</text>

<text x="859" y="342.6" text-anchor="middle" font-size="25">30</text>

<text x="929.7" y="342.6" text-anchor="middle" font-size="25">40</text>

<path d="M151.9,292.4 V311.4 M222.6,292.4 V311.4 M293.3,292.4 V311.4 M364,292.4 V311.4 M434.7,292.4 V311.4 M505.4,292.4 V311.4 M576.2,292.4 V311.4 M646.9,292.4 V311.4 M717.6,292.4 V311.4 M788.3,292.4 V311.4 M859,292.4 V311.4 M929.7,292.4 V311.4" stroke="#000" stroke-width="2.8" fill="none" stroke-linecap="round"/>
<text x="540.8" y="381.6" text-anchor="middle" font-size="25">PC1</text>
<rect x="552.4" y="379.38" width="5.01" height="3.07" fill="#fff"/><rect x="559.83" y="379.38" width="5.05" height="3.07" fill="#fff"/>
<clipPath id="clipd"><rect x="0" y="0" width="943" height="290.1"/></clipPath>
<g clip-path="url(#clipd)" fill="#E7E7E7">
<circle cx="215" cy="273.6" r="10"/>
<circle cx="290" cy="230.6" r="14.1"/>
<circle cx="365.2" cy="235.8" r="17.5"/>
<circle cx="440.1" cy="225.7" r="18.3"/>
<circle cx="515.4" cy="183.6" r="18.3"/>
<circle cx="590.5" cy="185.2" r="22.5"/>
<circle cx="665.3" cy="160.6" r="29.9"/>
<circle cx="740.2" cy="125.1" r="35.6"/>
<circle cx="815.3" cy="152.5" r="20.3"/>
<circle cx="890.5" cy="261.5" r="9.2"/>
</g>
<path d="M223.9,24.4h2.2v16.9h-2.2zM254.5,24.4h2v16.9h-2zM257.2,24.4h2.6v16.9h-2.6zM260.3,24.4h2.8v16.9h-2.8zM273.3,24.4h2.5v16.9h-2.5zM278.9,24.4h3.9v16.9h-3.9zM291.1,24.4h3.8v16.9h-3.8zM309.8,24.4h2.2v16.9h-2.2zM315.3,24.4h2.5v16.9h-2.5zM328,24.4h3.8v16.9h-3.8zM335.4,24.4h2.6v16.9h-2.6zM345.3,24.4h2.5v16.9h-2.5zM356,24.4h2.4v16.9h-2.4zM362.1,24.4h2.3v16.9h-2.3zM364.9,24.4h2.1v16.9h-2.1zM385.8,24.4h2.2v16.9h-2.2zM388.5,24.4h2.1v16.9h-2.1zM392.2,24.4h2.6v16.9h-2.6zM395.9,24.4h3.2v16.9h-3.2zM399.8,24.4h2.2v16.9h-2.2zM403.9,24.4h4.5v16.9h-4.5zM412.1,24.4h2.4v16.9h-2.4zM416.1,24.4h1.9v16.9h-1.9zM418.4,24.4h3.2v16.9h-3.2zM425.9,24.4h3.7v16.9h-3.7zM430.9,24.4h1.9v16.9h-1.9zM442,24.4h1.9v16.9h-1.9zM448.4,24.4h5.5v16.9h-5.5zM456.9,24.4h3.2v16.9h-3.2zM470.1,24.4h2.7v16.9h-2.7zM476.1,24.4h3.9v16.9h-3.9zM480.8,24.4h5v16.9h-5zM487.2,24.4h5.8v16.9h-5.8zM493.9,24.4h3.9v16.9h-3.9zM499.2,24.4h9.7v16.9h-9.7zM510.3,24.4h2.7v16.9h-2.7zM514.8,24.4h2.1v16.9h-2.1zM521.1,24.4h2.7v16.9h-2.7zM524.8,24.4h1.6v16.9h-1.6zM530.4,24.4h4.5v16.9h-4.5zM536,24.4h5v16.9h-5zM541.8,24.4h2.1v16.9h-2.1zM550.3,24.4h2.6v16.9h-2.6zM554,24.4h1.6v16.9h-1.6zM557,24.4h2.1v16.9h-2.1zM562.5,24.4h18.6v16.9h-18.6zM582,24.4h4.8v16.9h-4.8zM587.8,24.4h7.3v16.9h-7.3zM595.7,24.4h7.3v16.9h-7.3zM606.2,24.4h8v16.9h-8zM614.8,24.4h4.2v16.9h-4.2zM620.1,24.4h2.8v16.9h-2.8zM624.1,24.4h21.7v16.9h-21.7zM646.9,24.4h5.3v16.9h-5.3zM652.9,24.4h11.4v16.9h-11.4zM664.9,24.4h136.3v16.9h-136.3zM801.9,24.4h9.5v16.9h-9.5zM814.9,24.4h1.8v16.9h-1.8zM823.8,24.4h2.2v16.9h-2.2zM827,24.4h3.7v16.9h-3.7zM853.2,24.4h2v16.9h-2zM926.5,24.4h2v16.9h-2z" fill="#B0B0B0"/>
<path d="M176.1,271.4h3.7v17h-3.7zM185.8,271.4h5.2v17h-5.2zM194,271.4h2.2v17h-2.2zM199.9,271.4h5.2v17h-5.2zM206.6,271.4h2.9v17h-2.9zM212.5,271.4h3.7v17h-3.7zM219.2,271.4h3.7v17h-3.7zM227.4,271.4h5.9v17h-5.9zM236.3,271.4h1.7v17h-1.7zM240,271.4h2.2v17h-2.2zM245.9,271.4h1.5v17h-1.5zM262.2,271.4h3.8v17h-3.8zM271.9,271.4h3v17h-3zM277.1,271.4h1.5v17h-1.5zM283,271.4h17v17h-17zM301,271.4h14v17h-14zM316,271.4h4.2v17h-4.2zM321,271.4h33.2v17h-33.2zM359.1,271.4h11.2v17h-11.2zM371.9,271.4h3.5v17h-3.5zM376,271.4h16.1v17h-16.1zM392.8,271.4h34.1v17h-34.1zM427.5,271.4h3.2v17h-3.2zM437.7,271.4h24.2v17h-24.2zM462.8,271.4h5.8v17h-5.8zM472.7,271.4h5.4v17h-5.4zM479.1,271.4h14.6v17h-14.6zM495,271.4h7.6v17h-7.6zM503.5,271.4h4v17h-4zM508.2,271.4h2.8v17h-2.8zM514.9,271.4h11.1v17h-11.1zM526.6,271.4h3.2v17h-3.2zM531.1,271.4h3.4v17h-3.4zM536.2,271.4h2.5v17h-2.5zM540,271.4h8.9v17h-8.9zM549.8,271.4h3.3v17h-3.3zM554,271.4h13.7v17h-13.7zM569.3,271.4h17.5v17h-17.5zM589.2,271.4h3.6v17h-3.6zM593.8,271.4h11.1v17h-11.1zM606.8,271.4h5.1v17h-5.1zM612.9,271.4h21.1v17h-21.1zM635,271.4h16.8v17h-16.8zM653.1,271.4h7.9v17h-7.9zM663,271.4h7.9v17h-7.9zM672.8,271.4h35.3v17h-35.3zM709.1,271.4h3.8v17h-3.8zM714.2,271.4h15v17h-15zM731.1,271.4h15.6v17h-15.6zM750.3,271.4h21v17h-21zM771.9,271.4h8.9v17h-8.9zM782.1,271.4h8.9v17h-8.9zM791.9,271.4h27.3v17h-27.3zM823.4,271.4h3.9v17h-3.9zM831.1,271.4h1.9v17h-1.9zM834,271.4h12.1v17h-12.1zM847,271.4h4.1v17h-4.1zM853.3,271.4h2v17h-2zM859,271.4h6.7v17h-6.7zM869.4,271.4h7.3v17h-7.3zM881.5,271.4h4.9v17h-4.9zM893.3,271.4h2.1v17h-2.1zM900,271.4h3v17h-3zM912.3,271.4h1.7v17h-1.7zM917.1,271.4h3.7v17h-3.7z" fill="#B0B0B0"/>
<path d="M177.5,280.7 180.5,280.7 183.5,280.6 186.5,280.6 189.5,280.5 192.5,280.5 195.5,280.5 198.5,280.4 201.5,280.4 204.5,280.3 207.5,280.2 210.5,280.2 213.5,280.1 216.5,280.1 219.5,280 222.5,279.9 225.5,279.9 228.5,279.8 231.5,279.7 234.5,279.7 237.5,279.6 240.5,279.5 243.5,279.4 246.5,279.3 249.5,279.2 252.5,279.1 255.5,279 258.5,278.9 261.5,278.7 264.5,278.6 267.5,278.4 270.5,278.2 273.5,278.1 276.5,277.9 279.5,277.7 282.5,277.5 285.5,277.3 288.5,277.1 291.5,276.9 294.5,276.7 297.5,276.5 300.5,276.3 303.5,276.1 306.5,275.9 309.5,275.6 312.5,275.4 315.5,275.2 318.5,275 321.5,274.8 324.5,274.5 327.5,274.3 330.5,274.1 333.5,273.8 336.5,273.6 339.5,273.3 342.5,273.1 345.5,272.8 348.5,272.5 351.5,272.1 354.5,271.8 357.5,271.4 360.5,271 363.5,270.6 366.5,270.1 369.5,269.7 372.5,269.2 375.5,268.7 378.5,268.1 381.5,267.6 384.5,267.1 387.5,266.5 390.5,266 393.5,265.4 396.5,264.8 399.5,264.2 402.5,263.5 405.5,262.9 408.5,262.2 411.5,261.5 414.5,260.8 417.5,260.1 420.5,259.3 423.5,258.6 426.5,257.8 429.5,257 432.5,256.2 435.5,255.5 438.5,254.7 441.5,253.9 444.5,253.1 447.5,252.3 450.5,251.5 453.5,250.6 456.5,249.8 459.5,248.9 462.5,248.1 465.5,247.2 468.5,246.3 471.5,245.4 474.5,244.6 477.5,243.7 480.5,242.8 483.5,241.9 486.5,241 489.5,240.1 492.5,239.2 495.5,238.3 498.5,237.4 501.5,236.5 504.5,235.6 507.5,234.6 510.5,233.7 513.5,232.7 516.5,231.7 519.5,230.7 522.5,229.7 525.5,228.7 528.5,227.6 531.5,226.5 534.5,225.3 537.5,224.2 540.5,223 543.5,221.8 546.5,220.6 549.5,219.4 552.5,218.1 555.5,216.9 558.5,215.6 561.5,214.4 564.5,213.1 567.5,211.8 570.5,210.5 573.5,209.3 576.5,208 579.5,206.7 582.5,205.4 585.5,204.1 588.5,202.8 591.5,201.4 594.5,200.1 597.5,198.7 600.5,197.3 603.5,195.8 606.5,194.4 609.5,192.9 612.5,191.4 615.5,189.8 618.5,188.2 621.5,186.5 624.5,184.8 627.5,183.1 630.5,181.4 633.5,179.6 636.5,177.9 639.5,176.1 642.5,174.3 645.5,172.4 648.5,170.6 651.5,168.7 654.5,167 657.5,165.2 660.5,163.6 663.5,161.9 666.5,160.3 669.5,158.6 672.5,157 675.5,155.5 678.5,153.9 681.5,152.3 684.5,150.7 687.5,149.1 690.5,147.5 693.5,145.9 696.5,144.4 699.5,142.8 702.5,141.3 705.5,139.7 708.5,138.2 711.5,136.6 714.5,135.1 717.5,133.5 720.5,131.9 723.5,130.3 726.5,128.6 729.5,127 732.5,125.3 735.5,123.6 738.5,121.9 741.5,120.2 744.5,118.5 747.5,116.9 750.5,115.3 753.5,113.7 756.5,112.2 759.5,110.7 762.5,109.3 765.5,107.9 768.5,106.5 771.5,105.1 774.5,103.8 777.5,102.5 780.5,101.2 783.5,99.9 786.5,98.6 789.5,97.4 792.5,96.2 795.5,94.9 798.5,93.7 801.5,92.5 804.5,91.4 807.5,90.2 810.5,89.1 813.5,88 816.5,86.9 819.5,85.8 822.5,84.8 825.5,83.8 828.5,82.8 831.5,81.8 834.5,80.9 837.5,80 840.5,79.1 843.5,78.2 846.5,77.3 849.5,76.5 852.5,75.6 855.5,74.8 858.5,73.9 861.5,73.1 864.5,72.2 867.5,71.4 870.5,70.6 873.5,69.8 876.5,69 879.5,68.2 882.5,67.4 885.5,66.6 888.5,65.9 891.5,65.1 894.5,64.3 897.5,63.6 900.5,62.9 903.5,62.1 906.5,61.4 909.5,60.7 912.5,60 915.5,59.3 918.5,58.6 921.5,57.9 924.5,57.2 927.3,56.6" stroke="#B0B0B0" stroke-width="9" fill="none" stroke-linecap="round" stroke-linejoin="round"/>
</g>
<g transform="translate(0,1715.5)">
<text x="-1.3" y="26.4" font-weight="bold" font-size="43">e</text>
<text transform="translate(28.6,158.5) rotate(-90)" text-anchor="middle" font-size="25">Migration probability</text>
<path d="M120.5,35 V282" stroke="#000" stroke-width="2.8" fill="none" stroke-linecap="round"/>
<text x="89.5" y="290.6" text-anchor="end" font-size="25">0</text>

<text x="89.5" y="265.9" text-anchor="end" font-size="25">0.1</text>
<rect x="76.8" y="263.68" width="5.01" height="3.07" fill="#fff"/><rect x="84.21" y="263.68" width="5.05" height="3.07" fill="#fff"/>
<text x="89.5" y="241.2" text-anchor="end" font-size="25">0.2</text>

<text x="89.5" y="216.5" text-anchor="end" font-size="25">0.3</text>

<text x="89.5" y="191.8" text-anchor="end" font-size="25">0.4</text>

<text x="89.5" y="167.1" text-anchor="end" font-size="25">0.5</text>

<text x="89.5" y="142.4" text-anchor="end" font-size="25">0.6</text>

<text x="89.5" y="117.7" text-anchor="end" font-size="25">0.7</text>

<text x="89.5" y="93" text-anchor="end" font-size="25">0.8</text>

<text x="89.5" y="68.3" text-anchor="end" font-size="25">0.9</text>

<text x="89.5" y="43.6" text-anchor="end" font-size="25">1</text>
<rect x="76.8" y="41.38" width="5.01" height="3.07" fill="#fff"/><rect x="84.21" y="41.38" width="5.05" height="3.07" fill="#fff"/>
<path d="M102.1,282 H120.5 M102.1,257.3 H120.5 M102.1,232.6 H120.5 M102.1,207.9 H120.5 M102.1,183.2 H120.5 M102.1,158.5 H120.5 M102.1,133.8 H120.5 M102.1,109.1 H120.5 M102.1,84.4 H120.5 M102.1,59.7 H120.5 M102.1,35 H120.5" stroke="#000" stroke-width="2.8" fill="none" stroke-linecap="round"/>
<path d="M151.9,292.4 H929.7" stroke="#000" stroke-width="2.8" fill="none" stroke-linecap="round"/>
<text x="151.9" y="342.6" text-anchor="middle" font-size="25">0</text>

<text x="249.1" y="342.6" text-anchor="middle" font-size="25">10</text>
<rect x="236.4" y="340.38" width="5.01" height="3.07" fill="#fff"/><rect x="243.84" y="340.38" width="5.05" height="3.07" fill="#fff"/>
<text x="346.4" y="342.6" text-anchor="middle" font-size="25">20</text>

<text x="443.6" y="342.6" text-anchor="middle" font-size="25">30</text>

<text x="540.8" y="342.6" text-anchor="middle" font-size="25">40</text>

<text x="638" y="342.6" text-anchor="middle" font-size="25">50</text>

<text x="735.3" y="342.6" text-anchor="middle" font-size="25">60</text>

<text x="832.5" y="342.6" text-anchor="middle" font-size="25">70</text>

<text x="929.7" y="342.6" text-anchor="middle" font-size="25">80</text>

<path d="M151.9,292.4 V311.4 M249.1,292.4 V311.4 M346.4,292.4 V311.4 M443.6,292.4 V311.4 M540.8,292.4 V311.4 M638,292.4 V311.4 M735.3,292.4 V311.4 M832.5,292.4 V311.4 M929.7,292.4 V311.4" stroke="#000" stroke-width="2.8" fill="none" stroke-linecap="round"/>
<text x="540.8" y="382.8" text-anchor="middle" font-size="25">Latitude</text>
<clipPath id="clipe"><rect x="0" y="0" width="943" height="290.1"/></clipPath>
<g clip-path="url(#clipe)" fill="#E7E7E7">
<circle cx="190.2" cy="255" r="30.3"/>
<circle cx="266.4" cy="250.6" r="22.1"/>
<circle cx="342.8" cy="242.5" r="23.8"/>
<circle cx="418.9" cy="247.2" r="25.2"/>
<circle cx="495.3" cy="211.1" r="30.8"/>
<circle cx="571.6" cy="136.7" r="33.7"/>
<circle cx="647.7" cy="107.3" r="36"/>
<circle cx="724.1" cy="93.5" r="29"/>
<circle cx="800.3" cy="65.3" r="19.4"/>
<circle cx="876.6" cy="59.1" r="11"/>
</g>
<path d="M156.1,24.5h2.2v17h-2.2zM158.9,24.5h7.9v17h-7.9zM172,24.5h1.9v17h-1.9zM175.2,24.5h4.7v17h-4.7zM181.6,24.5h2.5v17h-2.5zM185,24.5h2.5v17h-2.5zM193,24.5h2.3v17h-2.3zM205.1,24.5h2.2v17h-2.2zM213.4,24.5h2.5v17h-2.5zM216.8,24.5h2.2v17h-2.2zM243.5,24.5h2.2v17h-2.2zM256.9,24.5h2.3v17h-2.3zM260.1,24.5h7.2v17h-7.2zM283.1,24.5h2v17h-2zM289.4,24.5h1.8v17h-1.8zM302.9,24.5h3.2v17h-3.2zM310,24.5h3.8v17h-3.8zM319.4,24.5h2.3v17h-2.3zM327.5,24.5h2.1v17h-2.1zM330.9,24.5h2v17h-2zM335.1,24.5h7.6v17h-7.6zM348.1,24.5h1.9v17h-1.9zM365,24.5h1.9v17h-1.9zM367.8,24.5h2v17h-2zM375.4,24.5h2v17h-2zM378,24.5h2v17h-2zM383.8,24.5h2.2v17h-2.2zM398.7,24.5h2.2v17h-2.2zM403.8,24.5h1.9v17h-1.9zM429.5,24.5h12.8v17h-12.8zM443.9,24.5h1.9v17h-1.9zM447,24.5h3.8v17h-3.8zM454.1,24.5h7.6v17h-7.6zM463,24.5h4.7v17h-4.7zM469,24.5h1.9v17h-1.9zM473.2,24.5h5.6v17h-5.6zM483.6,24.5h3.8v17h-3.8zM489.4,24.5h6.3v17h-6.3zM498,24.5h12.4v17h-12.4zM514.8,24.5h5.1v17h-5.1zM521.2,24.5h6.7v17h-6.7zM528.8,24.5h36.1v17h-36.1zM565.9,24.5h2.2v17h-2.2zM569.1,24.5h75.6v17h-75.6zM646,24.5h5.1v17h-5.1zM651.8,24.5h43.4v17h-43.4zM696.1,24.5h4.2v17h-4.2zM701.2,24.5h30.9v17h-30.9zM734,24.5h10.2v17h-10.2zM748,24.5h11.7v17h-11.7zM760.8,24.5h5.2v17h-5.2zM767.2,24.5h12.8v17h-12.8zM781.8,24.5h1.8v17h-1.8zM784.7,24.5h8.8v17h-8.8zM794.7,24.5h1.7v17h-1.7zM798.7,24.5h9.3v17h-9.3zM811.6,24.5h1.1v17h-1.1zM813.9,24.5h8.4v17h-8.4zM823.5,24.5h5.2v17h-5.2zM829.9,24.5h5.3v17h-5.3zM839.2,24.5h2.4v17h-2.4zM843.3,24.5h1.4v17h-1.4zM850.3,24.5h7.6v17h-7.6zM863.2,24.5h1.7v17h-1.7zM868.4,24.5h1.8v17h-1.8zM874.2,24.5h4.7v17h-4.7zM880.7,24.5h2.3v17h-2.3zM885.3,24.5h1.2v17h-1.2zM900.3,24.5h1.1v17h-1.1zM913.3,24.5h1.2v17h-1.2z" fill="#B0B0B0"/>
<path d="M150.4,271.4h24.6v16.9h-24.6zM176.2,271.4h27.1v16.9h-27.1zM204.4,271.4h42.6v16.9h-42.6zM248.2,271.4h1.8v16.9h-1.8zM251.2,271.4h7.1v16.9h-7.1zM259.4,271.4h10.6v16.9h-10.6zM271.2,271.4h15.8v16.9h-15.8zM287.9,271.4h2v16.9h-2zM290.8,271.4h1.9v16.9h-1.9zM293.7,271.4h2.2v16.9h-2.2zM296.8,271.4h12.5v16.9h-12.5zM311.6,271.4h3.8v16.9h-3.8zM317.9,271.4h2.3v16.9h-2.3zM320.8,271.4h11.4v16.9h-11.4zM333.4,271.4h4.5v16.9h-4.5zM338.8,271.4h18.2v16.9h-18.2zM358.9,271.4h14.3v16.9h-14.3zM373.8,271.4h19.2v16.9h-19.2zM393.6,271.4h17.2v16.9h-17.2zM414,271.4h6.1v16.9h-6.1zM420.7,271.4h16.2v16.9h-16.2zM437.9,271.4h5.1v16.9h-5.1zM444.2,271.4h1.9v16.9h-1.9zM446.8,271.4h6.4v16.9h-6.4zM455.4,271.4h39.4v16.9h-39.4zM495.7,271.4h25v16.9h-25zM522,271.4h1.9v16.9h-1.9zM524.9,271.4h15.2v16.9h-15.2zM542.1,271.4h9.8v16.9h-9.8zM553.8,271.4h15.3v16.9h-15.3zM571.2,271.4h2.3v16.9h-2.3zM574.2,271.4h5.7v16.9h-5.7zM581.2,271.4h5.7v16.9h-5.7zM587.8,271.4h18.6v16.9h-18.6zM608.3,271.4h1.5v16.9h-1.5zM612,271.4h22.1v16.9h-22.1zM634.8,271.4h5.1v16.9h-5.1zM640.8,271.4h3.8v16.9h-3.8zM651.6,271.4h4.5v16.9h-4.5zM657,271.4h11.8v16.9h-11.8zM670.1,271.4h16.9v16.9h-16.9zM690.1,271.4h6.7v16.9h-6.7zM698.1,271.4h19.7v16.9h-19.7zM722.3,271.4h1.6v16.9h-1.6zM728.6,271.4h2.2v16.9h-2.2zM742.2,271.4h1.7v16.9h-1.7zM746.1,271.4h1.6v16.9h-1.6zM755.9,271.4h4.3v16.9h-4.3zM764.5,271.4h3.7v16.9h-3.7zM779.4,271.4h6v16.9h-6zM802.3,271.4h3.7v16.9h-3.7zM809.5,271.4h5.1v16.9h-5.1zM848.1,271.4h1.4v16.9h-1.4zM901.4,271.4h1.4v16.9h-1.4z" fill="#B0B0B0"/>
<path d="M152.5,281.9 155.5,281.9 158.5,281.9 161.5,281.9 164.5,281.8 167.5,281.8 170.5,281.8 173.5,281.8 176.5,281.7 179.5,281.7 182.5,281.7 185.5,281.7 188.5,281.6 191.5,281.6 194.5,281.6 197.5,281.5 200.5,281.5 203.5,281.5 206.5,281.4 209.5,281.4 212.5,281.3 215.5,281.3 218.5,281.3 221.5,281.2 224.5,281.2 227.5,281.1 230.5,281.1 233.5,281 236.5,281 239.5,280.9 242.5,280.8 245.5,280.8 248.5,280.7 251.5,280.6 254.5,280.5 257.5,280.4 260.5,280.2 263.5,280.1 266.5,279.9 269.5,279.8 272.5,279.6 275.5,279.4 278.5,279.2 281.5,279 284.5,278.8 287.5,278.6 290.5,278.3 293.5,278.1 296.5,277.7 299.5,277.4 302.5,277 305.5,276.6 308.5,276.1 311.5,275.7 314.5,275.3 317.5,274.9 320.5,274.5 323.5,274.1 326.5,273.7 329.5,273.3 332.5,272.8 335.5,272.2 338.5,271.6 341.5,270.9 344.5,270.2 347.5,269.4 350.5,268.6 353.5,267.8 356.5,267 359.5,266.1 362.5,265.2 365.5,264.3 368.5,263.5 371.5,262.6 374.5,261.7 377.5,260.9 380.5,260 383.5,259.2 386.5,258.3 389.5,257.4 392.5,256.4 395.5,255.4 398.5,254.4 401.5,253.2 404.5,252 407.5,250.7 410.5,249.3 413.5,247.9 416.5,246.4 419.5,244.9 422.5,243.3 425.5,241.6 428.5,239.9 431.5,238.2 434.5,236.5 437.5,234.7 440.5,232.9 443.5,231 446.5,229.2 449.5,227.3 452.5,225.4 455.5,223.5 458.5,221.6 461.5,219.7 464.5,217.6 467.5,215.6 470.5,213.5 473.5,211.3 476.5,209.2 479.5,206.9 482.5,204.7 485.5,202.4 488.5,200.1 491.5,197.8 494.5,195.5 497.5,193.1 500.5,190.8 503.5,188.4 506.5,186.1 509.5,183.7 512.5,181.3 515.5,178.9 518.5,176.4 521.5,173.9 524.5,171.4 527.5,168.8 530.5,166.3 533.5,163.7 536.5,161.2 539.5,158.7 542.5,156.3 545.5,153.8 548.5,151.3 551.5,148.9 554.5,146.4 557.5,143.9 560.5,141.5 563.5,139.1 566.5,136.7 569.5,134.4 572.5,132.1 575.5,129.7 578.5,127.3 581.5,125 584.5,122.6 587.5,120.2 590.5,117.8 593.5,115.5 596.5,113.1 599.5,110.7 602.5,108.4 605.5,106.1 608.5,103.8 611.5,101.6 614.5,99.4 617.5,97.2 620.5,95.1 623.5,93 626.5,91 629.5,89 632.5,87.2 635.5,85.3 638.5,83.6 641.5,81.9 644.5,80.3 647.5,78.7 650.5,77.2 653.5,75.8 656.5,74.4 659.5,73 662.5,71.7 665.5,70.3 668.5,69 671.5,67.7 674.5,66.4 677.5,65 680.5,63.7 683.5,62.4 686.5,61.2 689.5,59.9 692.5,58.7 695.5,57.6 698.5,56.5 701.5,55.5 704.5,54.5 707.5,53.5 710.5,52.6 713.5,51.8 716.5,51 719.5,50.2 722.5,49.5 725.5,48.9 728.5,48.2 731.5,47.6 734.5,47 737.5,46.5 740.5,45.9 743.5,45.4 746.5,44.9 749.5,44.4 752.5,43.9 755.5,43.5 758.5,43.1 761.5,42.7 764.5,42.3 767.5,42 770.5,41.6 773.5,41.2 776.5,40.9 779.5,40.6 782.5,40.3 785.5,40 788.5,39.7 791.5,39.5 794.5,39.3 797.5,39 800.5,38.9 803.5,38.7 806.5,38.6 809.5,38.4 812.5,38.3 815.5,38.1 818.5,38 821.5,37.9 824.5,37.8 827.5,37.6 830.5,37.5 833.5,37.4 836.5,37.3 839.5,37.2 842.5,37.1 845.5,37 848.5,37 851.5,36.9 854.5,36.8 857.5,36.7 860.5,36.6 863.5,36.5 866.5,36.5 869.5,36.4 872.5,36.3 875.5,36.2 878.5,36.1 881.5,36.1 884.5,36 887.5,35.9 890.5,35.9 893.5,35.8 896.5,35.7 899.5,35.7 902.5,35.6 905.5,35.6 908.5,35.5 911.5,35.5 914.5,35.4 914.7,35.4" stroke="#B0B0B0" stroke-width="9" fill="none" stroke-linecap="round" stroke-linejoin="round"/>
</g>
</svg></body></html>
